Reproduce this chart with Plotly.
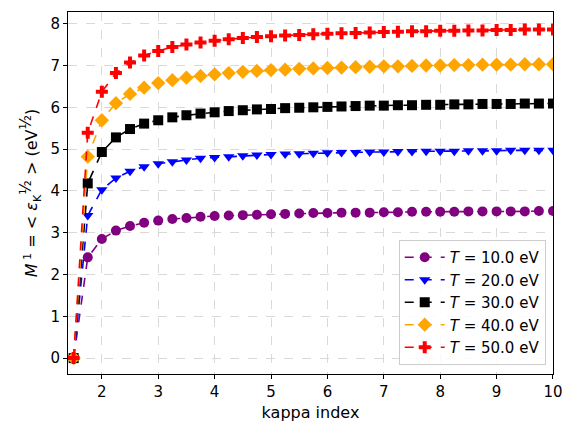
import plotly.graph_objects as go

kappa = [1.5, 1.75, 2.0, 2.25, 2.5, 2.75, 3.0, 3.25, 3.5, 3.75, 4.0, 4.25, 4.5, 4.75,
         5.0, 5.25, 5.5, 5.75, 6.0, 6.25, 6.5, 6.75, 7.0, 7.25, 7.5, 7.75, 8.0, 8.25,
         8.5, 8.75, 9.0, 9.25, 9.5, 9.75, 10.0]

m_T10 = [0.0, 2.41, 2.85, 3.05, 3.16, 3.24, 3.29, 3.33, 3.35, 3.38, 3.40, 3.41, 3.42, 3.43,
         3.44, 3.45, 3.46, 3.47, 3.47, 3.48, 3.48, 3.48, 3.49, 3.49, 3.50, 3.50, 3.50, 3.50,
         3.51, 3.51, 3.51, 3.51, 3.51, 3.52, 3.52]
m_T20 = [0.0, 3.41, 4.03, 4.31, 4.47, 4.58, 4.65, 4.70, 4.74, 4.78, 4.80, 4.82, 4.84, 4.86,
         4.87, 4.88, 4.89, 4.90, 4.91, 4.92, 4.92, 4.93, 4.93, 4.94, 4.94, 4.95, 4.95, 4.95,
         4.96, 4.96, 4.96, 4.97, 4.97, 4.97, 4.97]
m_T30 = [0.0, 4.18, 4.93, 5.28, 5.48, 5.61, 5.69, 5.76, 5.81, 5.85, 5.88, 5.91, 5.93, 5.95,
         5.96, 5.98, 5.99, 6.00, 6.01, 6.02, 6.03, 6.04, 6.04, 6.05, 6.05, 6.06, 6.06, 6.07,
         6.07, 6.08, 6.08, 6.08, 6.09, 6.09, 6.09]
m_T40 = [0.0, 4.82, 5.69, 6.10, 6.32, 6.47, 6.58, 6.65, 6.71, 6.75, 6.79, 6.82, 6.85, 6.87,
         6.89, 6.90, 6.92, 6.93, 6.94, 6.95, 6.96, 6.97, 6.98, 6.98, 6.99, 7.00, 7.00, 7.01,
         7.01, 7.02, 7.02, 7.02, 7.03, 7.03, 7.03]
m_T50 = [0.0, 5.39, 6.37, 6.82, 7.07, 7.24, 7.35, 7.44, 7.50, 7.55, 7.59, 7.63, 7.66, 7.68,
         7.70, 7.72, 7.73, 7.75, 7.76, 7.77, 7.78, 7.79, 7.80, 7.81, 7.82, 7.82, 7.83, 7.83,
         7.84, 7.84, 7.85, 7.85, 7.86, 7.86, 7.86]

labels = ["<i>T</i> = 10.0 eV", "<i>T</i> = 20.0 eV", "<i>T</i> = 30.0 eV",
          "<i>T</i> = 40.0 eV", "<i>T</i> = 50.0 eV"]
series = [m_T10, m_T20, m_T30, m_T40, m_T50]
colors = ["#800080", "#0000ff", "#000000", "#ffa500", "#ff0000"]
symbols = ["circle", "triangle-down", "square", "diamond", "cross"]
sizes = [10, 10, 10, 11, 10]

fig = go.Figure()
for lab, ys, c, s, sz in zip(labels, series, colors, symbols, sizes):
    fig.add_trace(go.Scatter(
        x=kappa, y=ys, name=lab, mode="lines+markers",
        line=dict(color=c, width=1.6, dash="dash"),
        marker=dict(color=c, symbol=s, size=sz, line=dict(width=0)),
    ))

axis_common = dict(
    showline=True, linecolor="black", linewidth=1, mirror=True,
    ticks="outside", ticklen=4, tickcolor="black",
    showgrid=True, gridcolor="#d9d9d9", griddash="dash", gridwidth=1,
    zeroline=False, tickfont=dict(size=15, color="black"),
    ticklabeloverflow="allow", automargin=False,
)

ytitle = ("<i>M</i><sup> 1</sup> = &lt; <i>ε</i><sub>K</sub>"
          "<sup><span style='font-size:15px'>½</span></sup> &gt; "
          "(eV<sup><span style='font-size:15px'>½</span></sup>)")

fig.update_layout(
    width=562, height=426,
    margin=dict(l=68, r=9, t=12, b=52),
    paper_bgcolor="white", plot_bgcolor="white",
    font=dict(family="DejaVu Sans", color="black"),
    xaxis=dict(range=[1.4, 10.0001], dtick=1, tick0=2,
               title=dict(text="kappa index", font=dict(size=16), standoff=6),
               **axis_common),
    yaxis=dict(range=[-0.38, 8.28], dtick=1, tick0=0,
               title=dict(text=ytitle, font=dict(size=16), standoff=8),
               **axis_common),
    legend=dict(x=0.985, y=0.025, xanchor="right", yanchor="bottom",
                bgcolor="rgba(255,255,255,0.85)", bordercolor="#cccccc", borderwidth=1,
                font=dict(size=15), itemwidth=40, tracegroupgap=0),
    showlegend=True,
)

fig.write_html("out.html", config={"displayModeBar": False},
               post_script="document.body.style.margin='0px';document.body.style.overflow='hidden';")
